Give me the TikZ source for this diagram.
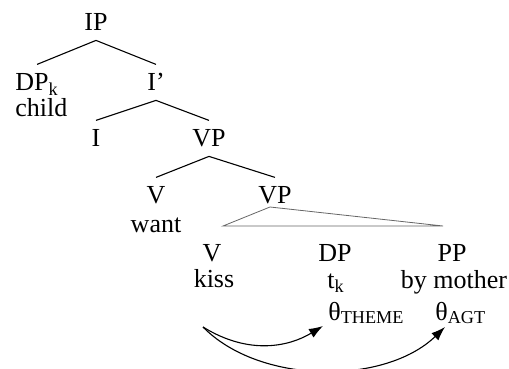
\documentclass[tikz,border=0pt]{standalone}
\usepackage{fontspec}
\setmainfont{Liberation Serif}
\usetikzlibrary{arrows.meta}
\begin{document}
\begin{tikzpicture}[x=0.5pt,y=-0.5pt,
  font=\fontsize{13}{15}\selectfont,
  cat/.style={inner xsep=0pt,inner ysep=4.5pt,text height=8.6pt,text depth=0pt,anchor=base},
  word/.style={inner sep=0pt,anchor=base},
  branch/.style={line width=0.55pt},
  tri/.style={line width=0.4pt,draw=black!60},
  theta/.style={line width=0.55pt,-{Latex[length=7pt,width=5pt]}}]
\useasboundingbox (0,0) rectangle (509,369);
% nodes
\node[cat] (IP) at (96,31) {IP};
\node[cat,anchor=base west] (DPk) at (15,91) {DP\textsubscript{k}};
\node[word,anchor=base west] (child) at (15,117) {child};
\node[cat] (Ibar) at (156,91) {I’};
\node[cat] (I) at (96,147) {I};
\node[cat] (VP) at (209,147) {VP};
\node[cat] (V) at (156,204) {V};
\node[word] (want) at (156,233) {want};
\node[cat] (VPb) at (275,204) {VP};
\node[cat] (Vb) at (212,261) {V};
\node[word] (kiss) at (214,287) {kiss};
\node[cat] (DP) at (335,261) {DP};
\node[word,anchor=base west] (tk) at (327,288) {t\textsubscript{k}};
\node[word,anchor=base west] (thT) at (328,320) {θ\textsubscript{THEME}};
\node[cat] (PP) at (452,261) {PP};
\node[word] (bym) at (454,288) {by mother};
\node[word,anchor=base west] (thA) at (435,320) {θ\textsubscript{AGT}};
% branches
\draw[branch] (IP.south) -- (DPk.north);
\draw[branch] (IP.south) -- (Ibar.north);
\draw[branch] (Ibar.south) -- (I.north);
\draw[branch] (Ibar.south) -- (VP.north);
\draw[branch] (VP.south) -- (V.north);
\draw[branch] (VP.south) -- (VPb.north);
% triangle
\coordinate (apex) at (270,207);
\coordinate (tl) at (223,226);
\coordinate (tr) at (443,226);
\draw[tri] (apex) -- (tl) -- (tr) -- cycle;
% theta-role arrows
\coordinate (src) at (203,327);
\coordinate (tipT) at (323,326);
\coordinate (tipA) at (445,327);
\draw[theta] (src) .. controls (250,356) and (290,346) .. (tipT);
\draw[theta] (src) .. controls (260,385) and (385,385) .. (tipA);
\end{tikzpicture}
\end{document}
